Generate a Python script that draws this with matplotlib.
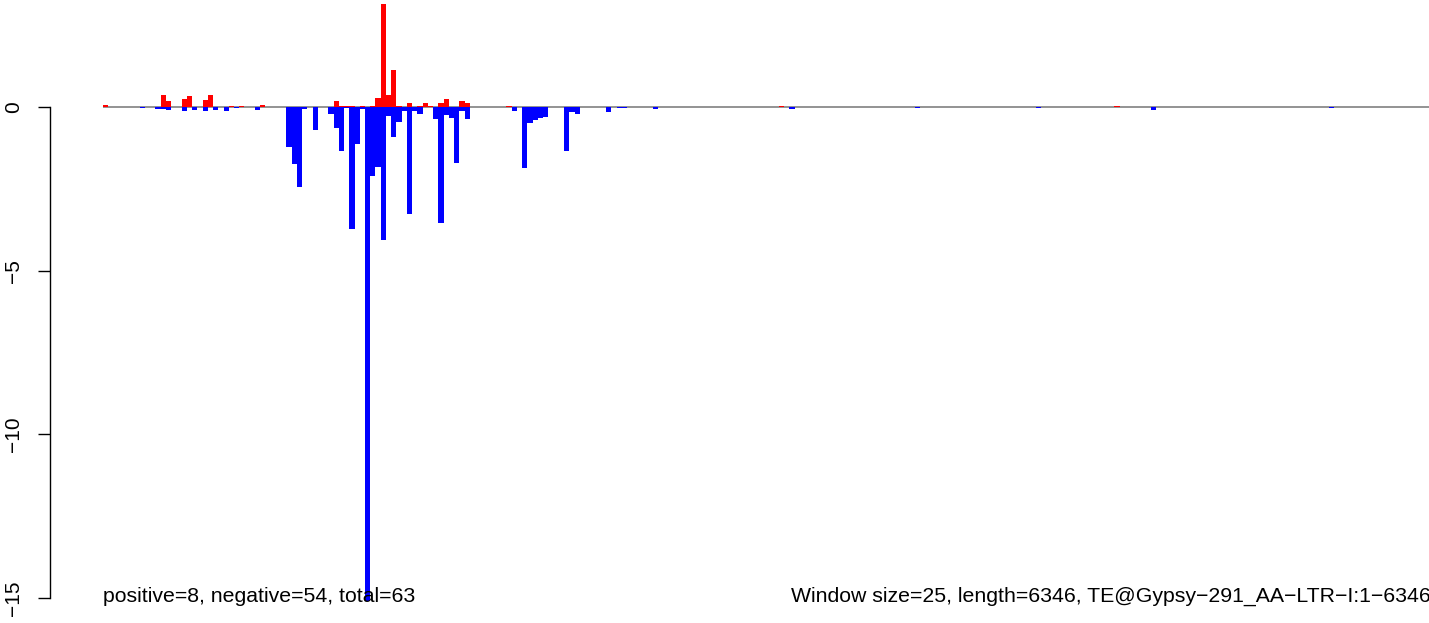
import numpy as np
import matplotlib
matplotlib.use("Agg")
import matplotlib.pyplot as plt

plt.rcParams['font.family'] = ['Liberation Sans', 'DejaVu Sans']

# window values (window size 25, length 6346 -> 254 windows)
n_windows = 254
pos_idx = [0, 11, 12, 15, 16, 19, 20, 24, 26, 30, 44, 45, 46, 47, 49, 51, 52, 53,
           54, 55, 56, 58, 60, 61, 62, 64, 65, 68, 69, 77, 129, 193]
pos_val = [0.05, 0.37, 0.18, 0.24, 0.34, 0.21, 0.37, 0.03, 0.03, 0.07, 0.18, 0.03,
           0.03, 0.03, 0.03, 0.03, 0.27, 3.15, 0.37, 1.13, 0.03, 0.12, 0.03, 0.12,
           0.03, 0.12, 0.24, 0.18, 0.12, 0.03, 0.03, 0.03]
neg_idx = [7, 10, 11, 12, 15, 17, 19, 21, 23, 25, 29, 35, 36, 37, 38, 40, 43, 44,
           45, 46, 47, 48, 49, 50, 51, 52, 53, 54, 55, 56, 57, 58, 59, 60, 63, 64,
           65, 66, 67, 68, 69, 78, 80, 81, 82, 83, 84, 88, 89, 90, 96, 98, 99, 105,
           131, 155, 178, 200, 234]
neg_val = [-0.03, -0.05, -0.05, -0.08, -0.11, -0.08, -0.11, -0.08, -0.11, -0.02,
           -0.08, -1.21, -1.73, -2.43, -0.05, -0.69, -0.20, -0.63, -1.33, -0.02,
           -3.72, -1.12, -0.06, -15.1, -2.10, -1.82, -4.05, -0.26, -0.91, -0.45,
           -0.12, -3.26, -0.11, -0.20, -0.36, -3.53, -0.23, -0.33, -1.70, -0.11,
           -0.36, -0.11, -1.85, -0.48, -0.39, -0.33, -0.30, -1.33, -0.14, -0.20,
           -0.14, -0.02, -0.02, -0.05, -0.05, -0.02, -0.02, -0.08, -0.02]
yticks = [0, -5, -10, -15]
left_note = "positive=8, negative=54, total=63"
right_note = "Window size=25, length=6346, TE@Gypsy\u2212291_AA\u2212LTR\u2212I:1\u22126346"

W, H = 1429, 623
fig = plt.figure(figsize=(W / 100, H / 100), dpi=100)
ax = fig.add_axes([103 / W, 0, 1 - 103 / W, 1])

pos = np.zeros(n_windows)
neg = np.zeros(n_windows)
pos[pos_idx] = pos_val
neg[neg_idx] = neg_val
x = np.arange(n_windows)

ax.axhline(0, color='#808080', lw=1.2, zorder=1)
ax.bar(x, pos, width=1, align='edge', color='#ff0000', linewidth=0, zorder=2)
ax.bar(x, neg, width=1, align='edge', color='#0000ff', linewidth=0, zorder=2)

ax.set_xlim(0, (W - 103) / 5.24)
ax.set_ylim(-(H - 107) / 32.73, 107 / 32.73)

for s in ['top', 'right', 'bottom']:
    ax.spines[s].set_visible(False)
# spine sits at x=50 px, i.e. 53 px left of the plot area (points at 100 dpi)
ax.spines['left'].set_position(('outward', 53 * 0.72))
ax.spines['left'].set_bounds(-15, 0)
ax.spines['left'].set_linewidth(1.0)
ax.set_xticks([])
ax.set_yticks(yticks)
ax.set_yticklabels([str(t).replace('-', '\u2212') for t in yticks],
                   rotation=90, va='center', fontsize=15)
ax.tick_params(axis='y', length=8.6, width=1.0, pad=11)

fig.text(103 / W, 1 - 601.5 / H, left_note, fontsize=15.3, va='baseline', ha='left')
fig.text(791 / W, 1 - 601.5 / H, right_note, fontsize=15.3, va='baseline', ha='left')

fig.savefig("out.png", dpi=100)
